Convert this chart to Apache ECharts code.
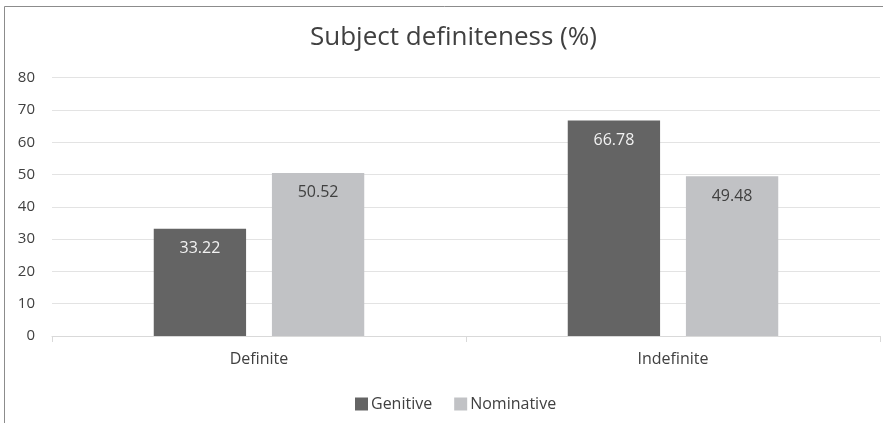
<!DOCTYPE html>
<html><head><meta charset="utf-8">
<script src="https://cdn.jsdelivr.net/npm/echarts@6/dist/echarts.min.js"></script>
<style>html,body{margin:0;padding:0;background:#fff}#c{width:883px;height:423px}</style>
</head><body><div id="c"></div>
<script>
const categories = ['Definite', 'Indefinite'];
const genitive = [33.22, 66.78];
const nominative = [50.52, 49.48];
const yTicks = [0, 80, 10];
const font = '"Open Sans", "Noto Sans", sans-serif';
const chart = echarts.init(document.getElementById('c'));
chart.setOption({
  animation: false,
  textStyle: {fontFamily: font},
  graphic: [{type: 'rect', shape: {x: 4.5, y: 6.5, width: 900, height: 440}, style: {fill: 'none', stroke: '#8c8c8c', lineWidth: 1}, silent: true}],
  title: {text: 'Subject definiteness (%)', left: 305, top: 20,
    textStyle: {fontFamily: font, fontSize: 26, fontWeight: 'normal', color: '#404040'}},
  legend: {top: 391, left: 350, itemWidth: 13, itemHeight: 13, itemGap: 22,
    icon: 'rect', textStyle: {fontFamily: font, fontSize: 16, color: '#404040', padding: [0, 0, 0, -2]},
    data: ['Genitive', 'Nominative']},
  grid: {left: 52, right: 3, top: 77.7, bottom: 87, containLabel: false},
  xAxis: {type: 'category', data: categories,
    axisLine: {lineStyle: {color: '#d9d9d9'}},
    axisTick: {show: true, length: 6, lineStyle: {color: '#d9d9d9'}},
    axisLabel: {fontSize: 16, color: '#404040', margin: 15, fontFamily: font}},
  yAxis: {type: 'value', min: yTicks[0], max: yTicks[1], interval: yTicks[2],
    axisLine: {show: false}, axisTick: {show: false},
    splitLine: {lineStyle: {color: '#e3e3e3'}},
    axisLabel: {fontSize: 15, color: '#404040', margin: 17, fontFamily: font}},
  series: [
    {name: 'Genitive', type: 'bar', data: genitive, barWidth: '22.3%', barGap: '28%',
      itemStyle: {color: '#646464'},
      label: {show: true, position: 'insideTop', distance: 12, color: '#f2f2f2', fontSize: 16, fontFamily: font, formatter: p => p.value.toFixed(2)}},
    {name: 'Nominative', type: 'bar', data: nominative, barWidth: '22.3%', barGap: '28%',
      itemStyle: {color: '#c1c2c5'},
      label: {show: true, position: 'insideTop', distance: 12, color: '#404040', fontSize: 16, fontFamily: font, formatter: p => p.value.toFixed(2)}}
  ]
});
</script></body></html>
